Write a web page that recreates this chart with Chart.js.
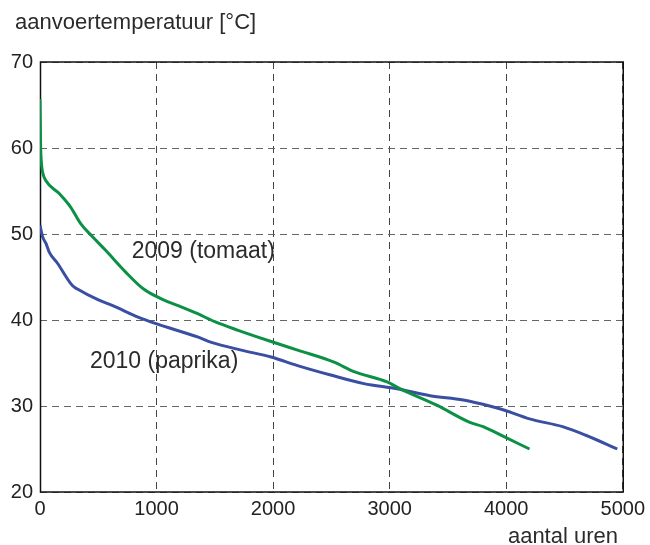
<!DOCTYPE html>
<html>
<head>
<meta charset="utf-8">
<script src="https://cdn.jsdelivr.net/npm/chart.js@4.4.0/dist/chart.umd.min.js"></script>
<style>
  html, body { margin: 0; padding: 0; background: #fff; }
  #wrap { width: 650px; height: 545px; }
</style>
</head>
<body>
<div id="wrap"><canvas id="lineChart" width="650" height="545"></canvas></div>
<script>
// data
const hours2009 = [0, 5, 12, 22, 51, 165, 264, 349, 449, 563, 733, 889, 1050, 1216, 1358, 1500, 1700, 1983, 2210, 2523, 2694, 2978, 3091, 3404, 3688, 3802, 3986, 4200];
const temp2009 = [65.7, 60.5, 58.3, 57.2, 56.2, 54.7, 53.1, 51.2, 49.7, 48.1, 45.6, 43.6, 42.4, 41.5, 40.7, 39.8, 38.8, 37.5, 36.5, 35.1, 34.0, 32.8, 32.0, 30.1, 28.1, 27.6, 26.4, 25.0];
const hours2010 = [0, 22, 51, 79, 150, 278, 321, 506, 619, 847, 989, 1358, 1471, 1727, 1983, 2210, 2494, 2779, 3063, 3347, 3632, 3858, 3986, 4200, 4484, 4683, 4953];
const temp2010 = [51.0, 49.7, 48.9, 47.9, 46.6, 44.0, 43.6, 42.3, 41.7, 40.3, 39.6, 38.0, 37.4, 36.5, 35.7, 34.7, 33.6, 32.6, 32.0, 31.2, 30.7, 30.0, 29.5, 28.5, 27.6, 26.6, 25.0];
const seriesNames = ["2009 (tomaat)", "2010 (paprika)"];
const xTicks = [0, 1000, 2000, 3000, 4000, 5000];
const yTicks = [20, 30, 40, 50, 60, 70];
const yTitle = "aanvoertemperatuur [°C]";
const xTitle = "aantal uren";

const FONT = "'Liberation Sans', Arial, sans-serif";

function toPoints(xs, ys) {
  return xs.map((x, i) => ({ x: x, y: ys[i] }));
}

// kader rond het plotgebied
const framePlugin = {
  id: "frame",
  beforeDatasetsDraw(chart) {
    const { ctx, chartArea } = chart;
    ctx.save();
    ctx.strokeStyle = "#111";
    ctx.lineWidth = 1.5;
    ctx.strokeRect(chartArea.left + 0.5, chartArea.top, chartArea.right - chartArea.left, chartArea.bottom - chartArea.top);
    ctx.restore();
  },
};

// teksten: titel, aslabel en reeksnamen
const textPlugin = {
  id: "texts",
  afterDraw(chart) {
    const { ctx, scales } = chart;
    ctx.save();
    ctx.fillStyle = "#2b2b2b";
    ctx.font = "22px " + FONT;
    ctx.textBaseline = "alphabetic";
    ctx.textAlign = "left";
    ctx.fillText(yTitle, 15, 29);
    ctx.textAlign = "right";
    ctx.fillText(xTitle, 618, 543);

    ctx.font = "23px " + FONT;
    ctx.textAlign = "left";
    ctx.textBaseline = "middle";
    ctx.fillText(seriesNames[0], scales.x.getPixelForValue(787), scales.y.getPixelForValue(47.9));
    ctx.fillText(seriesNames[1], scales.x.getPixelForValue(429), scales.y.getPixelForValue(35.2));
    ctx.restore();
  },
};

const ctx = document.getElementById("lineChart").getContext("2d");
const myChart = new Chart(ctx, {
  type: "line",
  data: {
    datasets: [
      {
        label: seriesNames[0],
        data: toPoints(hours2009, temp2009),
        borderColor: "#0b9146",
        borderWidth: 3,
        pointRadius: 0,
        cubicInterpolationMode: "monotone",
        fill: false,
      },
      {
        label: seriesNames[1],
        data: toPoints(hours2010, temp2010),
        borderColor: "#3a4ea2",
        borderWidth: 3,
        pointRadius: 0,
        cubicInterpolationMode: "monotone",
        fill: false,
      },
    ],
  },
  options: {
    responsive: false,
    animation: false,
    devicePixelRatio: 1,
    layout: {
      padding: { left: 0, top: 62, right: 25, bottom: 0 },
    },
    plugins: {
      legend: { display: false },
      tooltip: { enabled: false },
      title: { display: false },
    },
    scales: {
      x: {
        type: "linear",
        min: 0,
        max: 5000,
        afterBuildTicks: (scale) => {
          scale.ticks = xTicks.map((v) => ({ value: v }));
        },
        afterFit: (scale) => {
          scale.height = 53;
        },
        ticks: {
          padding: 5,
          color: "#222",
          font: { family: FONT, size: 20 },
          maxRotation: 0,
          autoSkip: false,
          callback: (value) => String(value),
        },
        grid: {
          color: "#444",
          lineWidth: 1,
          drawTicks: false,
        },
        border: { display: false, dash: [7, 5] },
      },
      y: {
        min: 20,
        max: 70,
        afterBuildTicks: (scale) => {
          scale.ticks = yTicks.map((v) => ({ value: v }));
        },
        afterFit: (scale) => {
          scale.width = 40;
        },
        ticks: {
          padding: 7,
          color: "#222",
          font: { family: FONT, size: 20 },
          callback: (value) => String(value),
        },
        grid: {
          color: "#666",
          lineWidth: 1,
          drawTicks: false,
        },
        border: { display: false, dash: [7, 5] },
      },
    },
  },
  plugins: [framePlugin, textPlugin],
});
</script>
</body>
</html>
